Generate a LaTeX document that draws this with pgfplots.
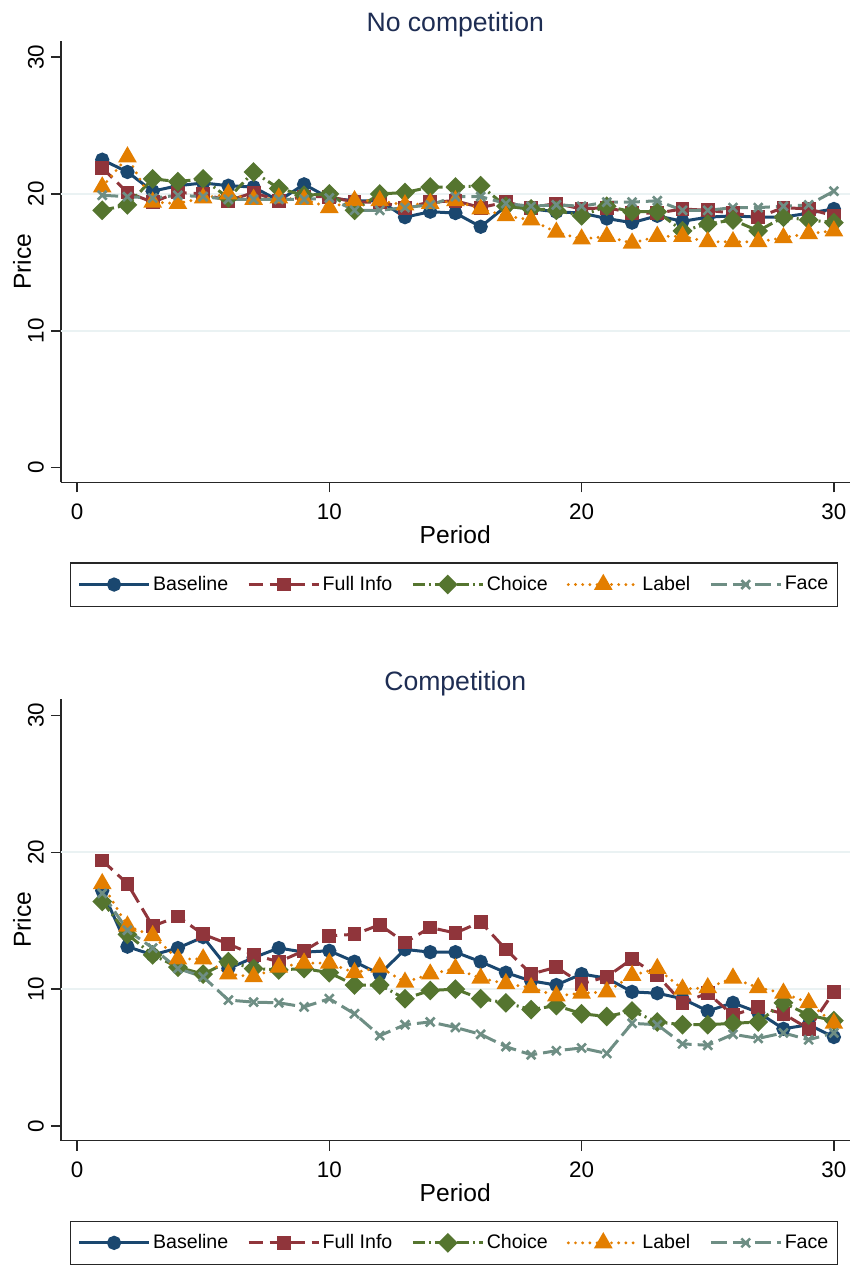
\documentclass[border=0pt]{standalone}
\usepackage{pgfplots}
\pgfplotsset{compat=1.18}
\usepackage{fontspec}
\setmainfont{Liberation Sans}
\definecolor{cBase}{RGB}{26,71,111}
\definecolor{cFull}{RGB}{144,53,59}
\definecolor{cChoice}{RGB}{85,117,47}
\definecolor{cLabel}{RGB}{227,126,0}
\definecolor{cFace}{RGB}{110,142,132}
\definecolor{gridc}{RGB}{234,242,243}
\definecolor{titlec}{RGB}{30,45,83}
\pgfplotsset{
 stataaxis/.style={
  x=12.615pt, y=6.845pt,
  xmin=-0.634, xmax=30.62, ymin=-1.066, ymax=31.17,
  axis x line*=bottom, axis y line*=left,
  axis line style={-, line width=0.7pt, draw=black!85},
  xtick={0,10,20,30}, ytick={0,10,20,30},
  tick align=outside, major tick length=5pt,
  tick style={line width=0.7pt, black!85},
  tick label style={font=\fontsize{11.2}{13}\selectfont},
  yticklabel style={rotate=90, anchor=south},
  xticklabel shift=2pt,
  extra y ticks={10,20}, extra y tick labels={},
  extra y tick style={grid=major, major tick length=0pt},
  grid style={line width=1pt, color=gridc},
  /pgf/number format/assume math mode=true,
  xlabel=Period, ylabel=Price,
  label style={font=\fontsize{12.3}{14}\selectfont},
  xlabel style={at={(axis description cs:0.5,-0.118)}, anchor=center},
  ylabel style={at={(axis description cs:-0.0494,0.5)}, anchor=center},
  title style={at={(axis description cs:0.5,1.043)}, anchor=center, yshift=-7.5pt, font=\fontsize{13.3}{15}\selectfont, text=titlec},
  legend columns=5,
  legend style={at={(axis description cs:0.0114,-0.1814)}, anchor=north west,
    draw=black!85, line width=0.6pt, font=\fontsize{9.8}{11}\selectfont,
    inner xsep=3.5pt, inner ysep=4.5pt,
    /tikz/every even column/.append style={column sep=8.2pt},
    nodes={inner xsep=1.25pt}},
  legend image code/.code={\draw[mark repeat=2,mark phase=2] plot coordinates {(0pt,0pt) (17.5pt,0pt) (35pt,0pt)};},
 },
 sBase/.style={cBase, line width=1.5pt, solid, mark=*, mark size=2.8pt, mark options={solid, fill=cBase}},
 sFull/.style={cFull, line width=1.5pt, dash pattern=on 7pt off 3.5pt, mark=square*, mark size=2.7pt, mark options={solid, fill=cFull}},
 sChoice/.style={cChoice, line width=1.5pt, dash pattern=on 6pt off 2pt on 1pt off 2pt, mark=square*, mark size=2.75pt, mark options={solid, fill=cChoice, rotate=45}},
 sLabel/.style={cLabel, line width=1.6pt, line cap=round, dash pattern=on 0pt off 3.6pt, mark=triangle*, mark size=3.8pt, mark options={solid, fill=cLabel}},
 sFace/.style={cFace, line width=1.5pt, dash pattern=on 8pt off 3pt, mark=x, mark size=3.1pt, mark options={solid, line width=1.3pt}},
}
\pgfplotstableread{
p base full choice label face
1 22.5 21.9 18.8 20.5 19.9
2 21.6 20.1 19.2 22.7 19.8
3 20.2 19.4 21.1 19.4 19.7
4 20.6 20.1 20.9 19.3 19.9
5 20.8 20.0 21.1 19.7 19.8
6 20.6 19.5 19.7 20.0 19.6
7 20.5 20.1 21.6 19.6 19.6
8 19.5 19.5 20.4 19.7 19.6
9 20.7 19.8 19.9 19.6 19.6
10 19.7 19.8 20.0 19.0 19.7
11 19.5 19.4 18.8 19.5 18.8
12 19.5 19.4 20.0 19.5 18.8
13 18.3 19.0 20.1 19.2 19.0
14 18.7 19.4 20.5 19.3 19.2
15 18.6 19.5 20.5 19.5 19.8
16 17.6 19.0 20.6 18.9 19.8
17 19.1 19.4 19.1 18.4 19.3
18 18.9 19.0 18.9 18.1 19.1
19 18.7 19.3 18.8 17.2 19.2
20 18.6 18.9 18.4 16.7 19.1
21 18.2 19.0 19.1 16.9 19.4
22 17.9 18.6 18.7 16.4 19.4
23 18.4 18.6 18.7 16.9 19.5
24 18.0 18.9 17.3 16.9 18.8
25 18.3 18.8 17.8 16.5 18.8
26 18.4 18.6 18.1 16.5 19.0
27 18.3 18.3 17.3 16.5 19.0
28 18.3 19.0 18.3 16.8 19.1
29 18.6 18.9 18.1 17.1 19.2
30 18.9 18.4 17.9 17.3 20.2
}\nocomp
\pgfplotstableread{
p base full choice label face
1 17.2 19.4 16.4 17.7 17.0
2 13.1 17.7 14.0 14.6 14.3
3 12.5 14.6 12.5 13.9 13.0
4 13.0 15.3 11.6 12.2 11.5
5 13.8 14.0 11.1 12.2 10.9
6 11.5 13.3 12.0 11.1 9.2
7 12.3 12.5 11.5 10.9 9.05
8 13.0 12.0 11.4 11.6 9.0
9 12.7 12.8 11.5 11.9 8.7
10 12.8 13.9 11.2 11.9 9.3
11 12.0 14.0 10.3 11.2 8.2
12 11.1 14.7 10.3 11.6 6.6
13 12.9 13.4 9.3 10.5 7.4
14 12.7 14.5 9.9 11.1 7.6
15 12.7 14.1 10.0 11.5 7.2
16 12.0 14.9 9.3 10.8 6.7
17 11.2 12.9 9.0 10.4 5.8
18 10.6 11.1 8.5 10.1 5.2
19 10.3 11.6 8.8 9.5 5.5
20 11.1 10.4 8.2 9.7 5.7
21 10.8 10.9 8.0 9.8 5.3
22 9.8 12.2 8.4 11.0 7.5
23 9.7 11.0 7.6 11.5 7.4
24 9.3 9.0 7.4 10.0 6.0
25 8.4 9.7 7.4 10.1 5.9
26 9.0 8.1 7.5 10.8 6.7
27 8.3 8.7 7.6 10.1 6.4
28 7.1 8.2 9.0 9.7 6.8
29 7.4 7.1 8.1 9.0 6.3
30 6.5 9.8 7.7 7.5 6.8
}\comp
\begin{document}
\begin{tikzpicture}
\useasboundingbox (-30.5pt,241.15pt) rectangle (396pt,-391.85pt);
\begin{axis}[stataaxis, title={No competition}, at={(0pt,0pt)}]
\addplot[sBase] table[x=p,y=base] {\nocomp};
\addplot[sFull] table[x=p,y=full] {\nocomp};
\addplot[sChoice] table[x=p,y=choice] {\nocomp};
\addplot[sLabel] table[x=p,y=label] {\nocomp};
\addplot[sFace] table[x=p,y=face] {\nocomp};
\legend{Baseline,Full Info,Choice,Label,Face}
\end{axis}
\begin{axis}[stataaxis, title={Competition}, at={(0pt,-329.15pt)}]
\addplot[sBase] table[x=p,y=base] {\comp};
\addplot[sFull] table[x=p,y=full] {\comp};
\addplot[sChoice] table[x=p,y=choice] {\comp};
\addplot[sLabel] table[x=p,y=label] {\comp};
\addplot[sFace] table[x=p,y=face] {\comp};
\legend{Baseline,Full Info,Choice,Label,Face}
\end{axis}
\end{tikzpicture}
\end{document}
